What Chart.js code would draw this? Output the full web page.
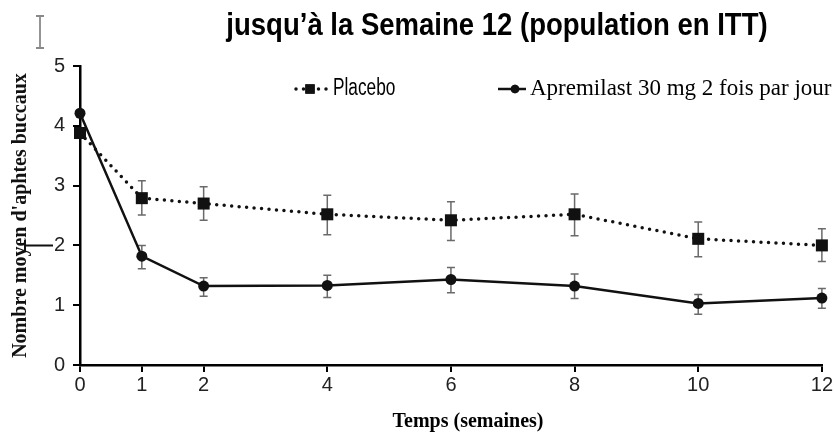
<!DOCTYPE html>
<html>
<head>
<meta charset="utf-8">
<script src="https://cdn.jsdelivr.net/npm/chart.js@4.4.1/dist/chart.umd.min.js"></script>
<style>
  html, body { margin: 0; padding: 0; background: #fff; }
  #wrap { position: relative; width: 834px; height: 436px; }
</style>
</head>
<body>
<div id="wrap"><canvas id="c" width="834" height="436"></canvas></div>
<script>
// ---- data ----
const titleText = "jusqu\u2019à la Semaine 12 (population en ITT)";
const xTitle = "Temps (semaines)";
const yTitle = "Nombre moyen d'aphtes buccaux";
const weeks = [0, 1, 2, 4, 6, 8, 10, 12];
const xTickValues = [0, 1, 2, 4, 6, 8, 10, 12];
const seriesNames = ["Placebo", "Apremilast 30 mg 2 fois par jour"];
const placebo     = [3.88, 2.79, 2.70, 2.52, 2.42, 2.52, 2.11, 2.00];
const placeboLow  = [null, 2.51, 2.42, 2.18, 2.08, 2.16, 1.81, 1.73];
const placeboHigh = [null, 3.08, 2.98, 2.84, 2.73, 2.86, 2.39, 2.28];
const apremilast     = [4.21, 1.82, 1.32, 1.33, 1.43, 1.32, 1.03, 1.12];
const apremilastLow  = [null, 1.61, 1.15, 1.13, 1.21, 1.11, 0.85, 0.95];
const apremilastHigh = [null, 2.00, 1.46, 1.50, 1.63, 1.52, 1.18, 1.28];

const SANS = "'Liberation Sans', Arial, sans-serif";
const SERIF = "'Liberation Serif', 'Times New Roman', serif";

const pts = (ys) => weeks.map((w, i) => ({ x: w, y: ys[i] }));

const errLow = [placeboLow, apremilastLow];
const errHigh = [placeboHigh, apremilastHigh];

const errorBars = {
  id: 'errorBars',
  beforeDatasetsDraw(chart) {
    const { ctx, scales: { x, y } } = chart;
    ctx.save();
    ctx.strokeStyle = '#6a6a6a';
    ctx.lineWidth = 1.5;
    errLow.forEach((lows, d) => {
      lows.forEach((lo, i) => {
        const hi = errHigh[d][i];
        if (lo == null || hi == null) return;
        const px = x.getPixelForValue(weeks[i]);
        const py1 = y.getPixelForValue(lo);
        const py2 = y.getPixelForValue(hi);
        ctx.beginPath();
        ctx.moveTo(px, py1); ctx.lineTo(px, py2);
        ctx.moveTo(px - 4, py1); ctx.lineTo(px + 4, py1);
        ctx.moveTo(px - 4, py2); ctx.lineTo(px + 4, py2);
        ctx.stroke();
      });
    });
    ctx.restore();
  }
};

// draw text horizontally condensed (the source uses a narrow sans face)
function narrowText(ctx, text, x, y, font, sx, align) {
  ctx.save();
  ctx.font = font;
  ctx.textAlign = align;
  ctx.textBaseline = 'middle';
  ctx.translate(x, y);
  ctx.scale(sx, 1);
  ctx.fillText(text, 0, 0);
  ctx.restore();
}

const overlay = {
  id: 'overlay',
  afterDraw(chart) {
    const { ctx } = chart;
    const ds = chart.data.datasets;
    ctx.save();
    ctx.fillStyle = '#000';
    // title
    narrowText(ctx, titleText, 497, 26, "bold 32px " + SANS, 0.86, 'center');
    // I-beam cursor artefact
    ctx.strokeStyle = '#8a8a8a';
    ctx.lineWidth = 1.8;
    ctx.beginPath();
    ctx.moveTo(40, 16); ctx.lineTo(40, 48);
    ctx.moveTo(36, 16); ctx.lineTo(44, 16);
    ctx.moveTo(36, 48); ctx.lineTo(44, 48);
    ctx.stroke();
    // small mark artefact left of the y axis
    ctx.strokeStyle = '#111';
    ctx.lineWidth = 2;
    ctx.beginPath();
    ctx.moveTo(25, 240); ctx.lineTo(25, 251);
    ctx.moveTo(25, 245.5); ctx.lineTo(53, 245.5);
    ctx.stroke();
    // x title
    ctx.fillStyle = '#000';
    ctx.textAlign = 'center';
    ctx.textBaseline = 'middle';
    ctx.font = "bold 20px " + SERIF;
    ctx.fillText(xTitle, 468, 422);
    // legend
    const ly = 89;
    const items = [
      { ds: ds[0], x0: 296, x1: 330 },
      { ds: ds[1], x0: 498, x1: 526 }
    ];
    items.forEach(it => {
      ctx.save();
      ctx.strokeStyle = it.ds.borderColor;
      ctx.lineWidth = it.ds.borderWidth;
      ctx.lineCap = it.ds.borderCapStyle || 'butt';
      ctx.setLineDash(it.ds.borderDash || []);
      ctx.beginPath();
      ctx.moveTo(it.x0, ly); ctx.lineTo(it.x1, ly);
      ctx.stroke();
      ctx.setLineDash([]);
      ctx.fillStyle = it.ds.pointBackgroundColor;
      const cx = (it.x0 + it.x1) / 2 + (it.ds.pointStyle === 'rect' ? -3 : 3);
      Chart.helpers.drawPoint(ctx, { pointStyle: it.ds.pointStyle, radius: it.ds.pointRadius * 0.78, borderWidth: 0 }, cx, ly);
      ctx.fill();
      ctx.restore();
    });
    ctx.fillStyle = '#000';
    narrowText(ctx, ds[0].label, 333, ly, "23px " + SANS, 0.75, 'left');
    ctx.textAlign = 'left';
    ctx.textBaseline = 'middle';
    ctx.font = "23px " + SERIF;
    ctx.fillText(ds[1].label, 530, ly);
    ctx.restore();
  }
};

new Chart(document.getElementById('c'), {
  type: 'line',
  data: {
    datasets: [
      {
        label: seriesNames[0],
        data: pts(placebo),
        borderColor: '#111',
        borderWidth: 3.5,
        borderDash: [0, 7.5],
        borderCapStyle: 'round',
        pointStyle: 'rect',
        pointRadius: 8.5,
        pointBackgroundColor: '#111',
        pointBorderWidth: 0,
        tension: 0
      },
      {
        label: seriesNames[1],
        data: pts(apremilast),
        borderColor: '#111',
        borderWidth: 2.5,
        pointStyle: 'circle',
        pointRadius: 5.5,
        pointBackgroundColor: '#111',
        pointBorderWidth: 0,
        tension: 0
      }
    ]
  },
  options: {
    responsive: false,
    animation: false,
    clip: false,
    layout: { padding: { top: 66, right: 12, left: 0, bottom: 0 } },
    plugins: {
      legend: { display: false },
      title: { display: false },
      tooltip: { enabled: false }
    },
    scales: {
      x: {
        type: 'linear',
        min: 0, max: 12,
        afterBuildTicks: (s) => { s.ticks = xTickValues.map(v => ({ value: v })); },
        afterFit: (s) => { s.height = 71; },
        grid: { display: true, drawOnChartArea: false, drawTicks: true, tickLength: 7, color: '#000', lineWidth: 2 },
        border: { display: true, color: '#000', width: 2.5 },
        ticks: { color: '#222', font: { family: SANS, size: 20 }, padding: 1, maxRotation: 0, autoSkip: false }
      },
      y: {
        min: 0, max: 5,
        afterFit: (s) => { s.width = 80; },
        grid: { display: true, drawOnChartArea: false, drawTicks: true, tickLength: 7, color: '#000', lineWidth: 2 },
        border: { display: true, color: '#000', width: 2.5 },
        ticks: { stepSize: 1, color: '#222', font: { family: SANS, size: 20 }, padding: 8 },
        title: { display: true, text: yTitle, color: '#111', font: { family: SERIF, size: 20, weight: 'bold' }, padding: { top: 9, bottom: 0 } }
      }
    }
  },
  plugins: [errorBars, overlay]
});
</script>
</body>
</html>
